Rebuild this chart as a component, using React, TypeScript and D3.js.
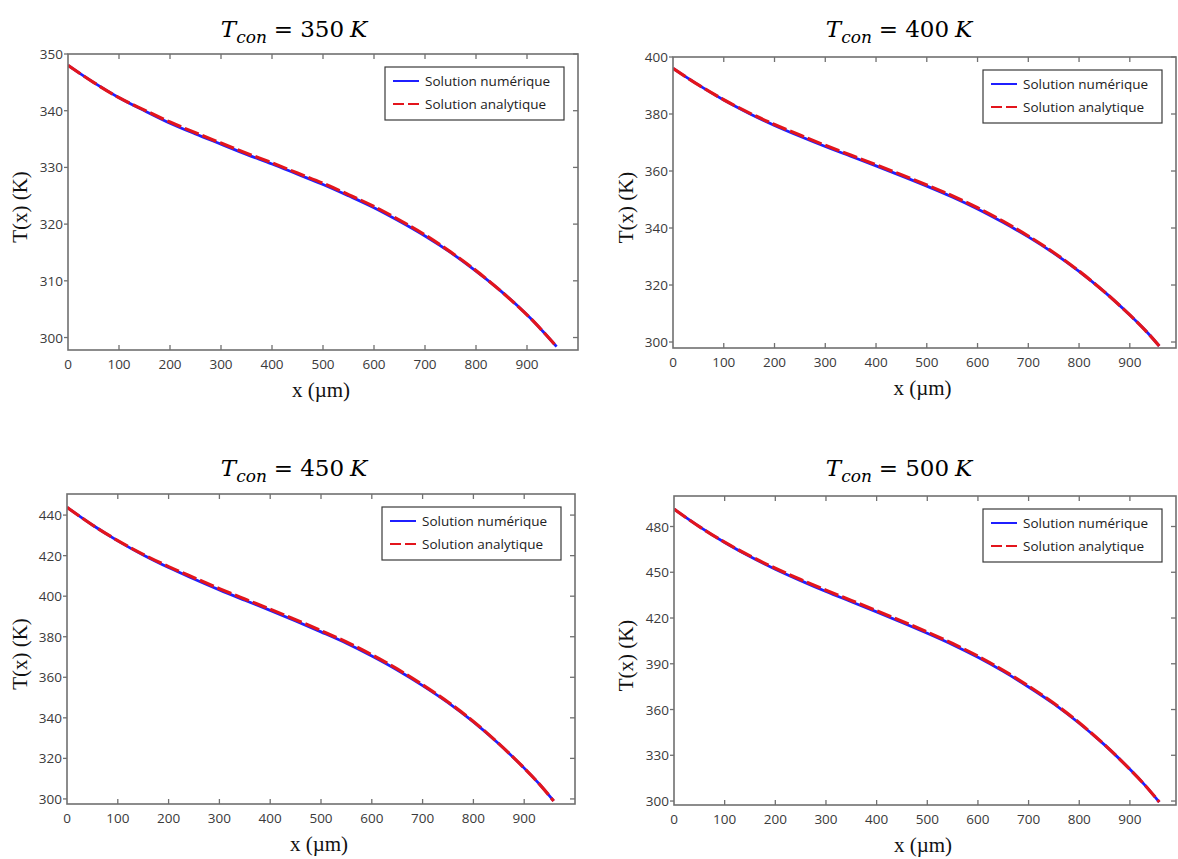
import React from "react";
import * as d3 from "d3";

// ---------- DATA ----------
const xMicron = [0, 50, 100, 150, 200, 250, 300, 350, 400, 450, 500, 550, 600, 650, 700, 750, 800, 850, 900, 930, 958];

const numeric350 = [348.0, 345.0, 342.3, 340.0, 337.8, 335.9, 334.1, 332.3, 330.6, 328.8, 327.0, 325.0, 322.9, 320.5, 317.9, 315.0, 311.7, 308.1, 304.0, 301.2, 298.4];
const analytic350 = [348.0, 345.0, 342.3, 340.1, 338.0, 336.1, 334.3, 332.5, 330.8, 329.0, 327.2, 325.2, 323.1, 320.7, 318.1, 315.1, 311.8, 308.1, 304.0, 301.2, 298.4];

const numeric400 = [396.0, 390.2, 384.9, 380.2, 376.0, 372.2, 368.6, 365.2, 361.8, 358.3, 354.7, 350.9, 346.7, 342.0, 336.9, 331.2, 324.8, 317.6, 309.5, 304.2, 298.6];
const analytic400 = [396.0, 390.2, 385.0, 380.4, 376.3, 372.6, 369.0, 365.6, 362.2, 358.7, 355.1, 351.3, 347.1, 342.4, 337.2, 331.4, 324.9, 317.6, 309.5, 304.2, 298.6];

const numeric450 = [443.8, 435.1, 427.3, 420.3, 414.1, 408.5, 403.1, 398.0, 393.0, 387.8, 382.4, 376.8, 370.5, 363.6, 355.9, 347.5, 338.0, 327.2, 315.2, 307.3, 299.0];
const analytic450 = [443.8, 435.1, 427.4, 420.6, 414.6, 409.1, 403.7, 398.6, 393.6, 388.4, 383.0, 377.4, 371.1, 364.1, 356.3, 347.8, 338.2, 327.3, 315.2, 307.3, 299.0];

const numeric500 = [491.4, 479.9, 469.5, 460.3, 452.0, 444.5, 437.4, 430.7, 424.0, 417.1, 410.0, 402.5, 394.2, 385.0, 374.8, 363.7, 351.0, 336.8, 320.8, 310.3, 299.3];
const analytic500 = [491.4, 479.9, 469.7, 460.7, 452.6, 445.2, 438.2, 431.5, 424.8, 417.9, 410.8, 403.3, 395.0, 385.7, 375.4, 364.1, 351.3, 336.9, 320.8, 310.3, 299.3];

const tconValues = ["350", "400", "450", "500"];
const xTicks = [0, 100, 200, 300, 400, 500, 600, 700, 800, 900];
const yTicks350 = [300, 310, 320, 330, 340, 350];
const yTicks400 = [300, 320, 340, 360, 380, 400];
const yTicks450 = [300, 320, 340, 360, 380, 400, 420, 440];
const yTicks500 = [300, 330, 360, 390, 420, 450, 480];
const yDomain350 = [297.8, 350];
const yDomain400 = [297.9, 400];
const yDomain450 = [297.5, 450.4];
const yDomain500 = [297.4, 500];
const xDomainLeft = [0, 1000];
const xDomainRight = [0, 991];

const legendLabels = ["Solution numérique", "Solution analytique"];
const xLabel = "x (µm)";
const yLabel = "T(x) (K)";

// ---------- LAYOUT ----------
const panels = [
  { tcon: tconValues[0], num: numeric350, ana: analytic350, yTicks: yTicks350, yDomain: yDomain350, xDomain: xDomainLeft, left: 68, right: 578, top: 54, bottom: 350, titleX: 294, titleY: 37, yLabX: 20 },
  { tcon: tconValues[1], num: numeric400, ana: analytic400, yTicks: yTicks400, yDomain: yDomain400, xDomain: xDomainRight, left: 673, right: 1176, top: 57, bottom: 348, titleX: 899, titleY: 37, yLabX: 626 },
  { tcon: tconValues[2], num: numeric450, ana: analytic450, yTicks: yTicks450, yDomain: yDomain450, xDomain: xDomainLeft, left: 67, right: 575, top: 494, bottom: 804, titleX: 294, titleY: 476, yLabX: 20 },
  { tcon: tconValues[3], num: numeric500, ana: analytic500, yTicks: yTicks500, yDomain: yDomain500, xDomain: xDomainRight, left: 674, right: 1176, top: 496, bottom: 805, titleX: 899, titleY: 476, yLabX: 626 },
];

const FRAME = "#707070";
const TICKTXT = "#3a3a3a";
const SANS = "'Open Sans', 'DejaVu Sans', sans-serif";
const SERIF = "'Liberation Serif', 'DejaVu Serif', serif";
const MATH = "'DejaVu Serif', serif";

function Panel({ p, idx }: { p: any; idx: number }) {
  const x = d3.scaleLinear().domain(p.xDomain).range([p.left, p.right]);
  const y = d3.scaleLinear().domain(p.yDomain).range([p.bottom, p.top]);
  const line = d3
    .line<number>()
    .x((_, i) => x(xMicron[i]))
    .y((d) => y(d))
    .curve(d3.curveCatmullRom.alpha(0.5));
  const clipId = `clip${idx}`;
  const lw = 179;
  const lh = 53;
  const lx = p.right - 14 - lw;
  const ly = p.top + 13;
  const midY = (p.top + p.bottom) / 2;
  return (
    <g>
      <defs>
        <clipPath id={clipId}>
          <rect x={p.left} y={p.top} width={p.right - p.left} height={p.bottom - p.top} />
        </clipPath>
      </defs>
      {/* title */}
      <text x={p.titleX} y={p.titleY} textAnchor="middle" fontFamily={MATH} fontSize={23} fill="#000">
        <tspan fontStyle="italic">T</tspan>
        <tspan fontStyle="italic" fontSize={17} dy={6}>con</tspan>
        <tspan dy={-6} dx={7}>=</tspan>
        <tspan dx={7}>{p.tcon}</tspan>
        <tspan fontStyle="italic" dx={6}>K</tspan>
      </text>
      {/* curves */}
      <g clipPath={`url(#${clipId})`}>
        <path d={line(p.num) || ""} fill="none" stroke="#1f1fff" strokeWidth={2.8} />
        <path d={line(p.ana) || ""} fill="none" stroke="#e3151c" strokeWidth={3.2} strokeDasharray="15,4" />
      </g>
      {/* frame */}
      <rect x={p.left} y={p.top} width={p.right - p.left} height={p.bottom - p.top} fill="none" stroke={FRAME} strokeWidth={1.6} />
      {/* x ticks */}
      {xTicks.map((t) => (
        <g key={"xt" + t}>
          {t > 0 && <line x1={x(t)} x2={x(t)} y1={p.bottom} y2={p.bottom - 5} stroke={FRAME} strokeWidth={1.3} />}
          {t > 0 && <line x1={x(t)} x2={x(t)} y1={p.top} y2={p.top + 5} stroke={FRAME} strokeWidth={1.3} />}
          <text x={x(t)} y={p.bottom + 19} textAnchor="middle" fontFamily={SANS} fontSize={13.5} fill={TICKTXT}>
            {t}
          </text>
        </g>
      ))}
      {/* y ticks */}
      {p.yTicks.map((t: number) => (
        <g key={"yt" + t}>
          <line x1={p.left - 4} x2={p.left} y1={y(t)} y2={y(t)} stroke={FRAME} strokeWidth={1.3} />
          <line x1={p.right - 5} x2={p.right} y1={y(t)} y2={y(t)} stroke={FRAME} strokeWidth={1.3} />
          <text x={p.left - 5} y={y(t) + 5} textAnchor="end" fontFamily={SANS} fontSize={13.5} fill={TICKTXT}>
            {t}
          </text>
        </g>
      ))}
      {/* axis labels */}
      <text x={(p.left + p.right) / 2 - 2} y={p.bottom + 47} textAnchor="middle" fontFamily={SERIF} fontSize={21} fill="#111">
        {xLabel}
      </text>
      <text
        transform={`translate(${p.yLabX + 7},${midY + 5}) rotate(-90)`}
        textAnchor="middle"
        fontFamily={SERIF}
        fontSize={21}
        fill="#111"
      >
        {yLabel}
      </text>
      {/* legend */}
      <rect x={lx} y={ly} width={lw} height={lh} fill="#fff" stroke="#3a3a3a" strokeWidth={1.2} />
      <line x1={lx + 8} x2={lx + 34} y1={ly + 14} y2={ly + 14} stroke="#1f1fff" strokeWidth={2} />
      <line x1={lx + 8} x2={lx + 34} y1={ly + 37} y2={ly + 37} stroke="#e3151c" strokeWidth={2} strokeDasharray="11,4" />
      <text x={lx + 40} y={ly + 19} fontFamily={SANS} fontSize={13.5} fill="#222">
        {legendLabels[0]}
      </text>
      <text x={lx + 40} y={ly + 42} fontFamily={SANS} fontSize={13.5} fill="#222">
        {legendLabels[1]}
      </text>
    </g>
  );
}

export default function App() {
  return (
    <svg
      width={1178}
      height={859}
      viewBox="0 0 1178 859"
      style={{ position: "absolute", left: 0, top: 0, background: "#fff" }}
    >
      <rect x={0} y={0} width={1178} height={859} fill="#fff" />
      {panels.map((p, i) => (
        <Panel key={i} p={p} idx={i} />
      ))}
    </svg>
  );
}
